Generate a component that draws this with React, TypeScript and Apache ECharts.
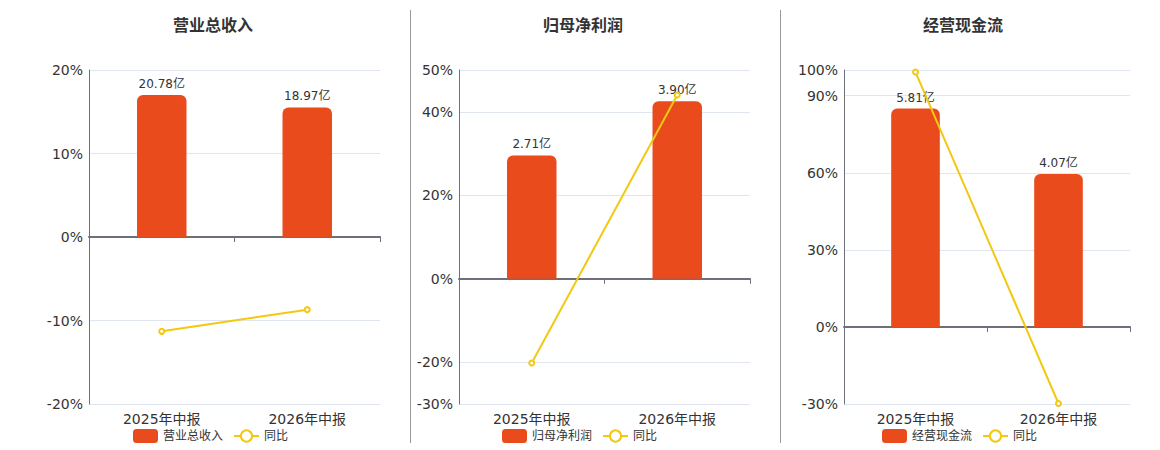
import React, { useEffect, useRef } from "react";
import * as echarts from "echarts";

const categories = ["2025年中报", "2026年中报"];
const titles = ["营业总收入", "归母净利润", "经营现金流"];
const barValues1 = [20.78, 18.97];
const barValues2 = [2.71, 3.9];
const barValues3 = [5.81, 4.07];
const yoy1 = [-11.3, -8.7];
const yoy2 = [-20.2, 44.0];
const yoy3 = [99.2, -29.8];
const ticks1 = [-20, -10, 0, 10, 20];
const ticks2 = [-30, -20, 0, 20, 40, 50];
const ticks3 = [-30, 0, 30, 60, 90, 100];

const BAR_COLOR = "#E94B1C";
const LINE_COLOR = "#F2C811";
const FONT = "'DejaVu Sans', 'Noto Sans CJK SC', sans-serif";

export default function App() {
  const ref = useRef<HTMLDivElement>(null);
  useEffect(() => {
    if (!ref.current) return;
    const chart = echarts.init(ref.current, undefined, { renderer: "svg" });
    const panels = [
      { bars: barValues1, yoy: yoy1, ticks: ticks1, left: 89, right: 380, center: 208, legendLeft: 128 },
      { bars: barValues2, yoy: yoy2, ticks: ticks2, left: 459, right: 750, center: 578, legendLeft: 497 },
      { bars: barValues3, yoy: yoy3, ticks: ticks3, left: 844, right: 1130, center: 958, legendLeft: 877 },
    ];
    const grid: any[] = [];
    const xAxis: any[] = [];
    const yAxis: any[] = [];
    const series: any[] = [];
    const title: any[] = [];
    const legend: any[] = [];
    panels.forEach((p, i) => {
      grid.push({ left: p.left, width: p.right - p.left, top: 70, height: 334 });
      const pMin = p.ticks[0];
      const pMax = p.ticks[p.ticks.length - 1];
      const barMax = Math.max(...p.bars) / 0.85;
      const barMin = (barMax * pMin) / pMax;
      xAxis.push({
        type: "category",
        gridIndex: i,
        data: categories,
        position: "bottom",
        axisLine: { show: false },
        axisTick: { show: false },
        axisLabel: { color: "#333", fontSize: 14, fontFamily: FONT, margin: 8 },
      });
      xAxis.push({
        type: "category",
        gridIndex: i,
        data: categories,
        position: "bottom",
        axisLine: { show: true, onZero: true, onZeroAxisIndex: i * 2, lineStyle: { color: "#6E7079", width: 2 } },
        axisTick: { show: true, length: 5, lineStyle: { color: "#6E7079" } },
        axisLabel: { show: false },
      });
      yAxis.push({
        type: "value",
        gridIndex: i,
        min: pMin,
        max: pMax,
        axisLine: { show: true, lineStyle: { color: "#6E7079" } },
        axisTick: { show: false, customValues: p.ticks },
        axisLabel: {
          customValues: p.ticks,
          formatter: "{value}%",
          color: "#333",
          fontSize: 14,
          fontFamily: FONT,
          margin: 6,
        },
        splitLine: { show: true, lineStyle: { color: "#E0E6F1" } },
      });
      yAxis.push({
        type: "value",
        gridIndex: i,
        min: barMin,
        max: barMax,
        show: false,
        splitLine: { show: false },
      });
      series.push({
        type: "bar",
        name: titles[i],
        xAxisIndex: i * 2,
        yAxisIndex: i * 2 + 1,
        data: p.bars,
        barWidth: "34%",
        itemStyle: { color: BAR_COLOR, borderRadius: [6, 6, 0, 0] },
        label: {
          show: true,
          position: "top",
          formatter: (d: any) => Number(d.value).toFixed(2) + "亿",
          color: "#333",
          fontSize: 12,
          fontFamily: FONT,
        },
        z: 2,
      });
      series.push({
        type: "line",
        name: "同比",
        xAxisIndex: i * 2,
        yAxisIndex: i * 2,
        data: p.yoy,
        symbol: "emptyCircle",
        symbolSize: 5,
        lineStyle: { color: LINE_COLOR, width: 2 },
        itemStyle: { color: LINE_COLOR },
        z: 5,
      });
      title.push({
        text: titles[i],
        left: p.center,
        textAlign: "center",
        top: 12,
        textStyle: { fontSize: 16, fontWeight: "bold", color: "#333", fontFamily: FONT },
      });
      legend.push({
        data: [{ name: titles[i], icon: "roundRect" }, { name: "同比" }],
        left: p.legendLeft,
        top: 424,
        itemGap: 10,
        itemWidth: 25,
        itemHeight: 14,
        selectedMode: false,
        textStyle: { fontSize: 12, color: "#333", fontFamily: FONT },
      });
    });
    chart.setOption({
      animation: false,
      textStyle: { fontFamily: FONT },
      title,
      legend,
      grid,
      xAxis,
      yAxis,
      series,
      graphic: [
        { type: "line", shape: { x1: 410.5, y1: 10, x2: 410.5, y2: 443 }, style: { stroke: "#999", lineWidth: 1 } },
        { type: "line", shape: { x1: 780.5, y1: 10, x2: 780.5, y2: 443 }, style: { stroke: "#999", lineWidth: 1 } },
      ],
    });
    return () => chart.dispose();
  }, []);
  return <div ref={ref} style={{ position: "absolute", left: 0, top: 0, width: 1160, height: 450 }} />;
}
